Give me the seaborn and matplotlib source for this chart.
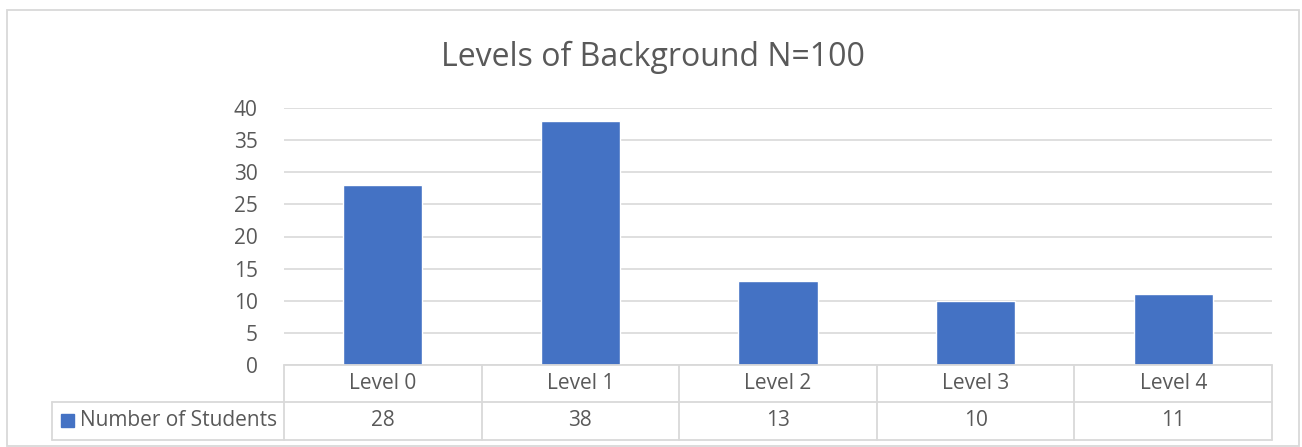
import matplotlib
matplotlib.use("Agg")
import matplotlib.pyplot as plt
import matplotlib.transforms as mtransforms
from matplotlib.lines import Line2D
from matplotlib.patches import Rectangle
import seaborn as sns
import pandas as pd

categories = ["Level 0", "Level 1", "Level 2", "Level 3", "Level 4"]
values = [28, 38, 13, 10, 11]
series_name = "Number of Students"
title = "Levels of Background N=100"
yticks = [0, 5, 10, 15, 20, 25, 30, 35, 40]

BAR = "#4472C4"
GRID = "#D9D9D9"
TXT = "#595959"

sns.set_theme(style="white")
plt.rcParams["font.family"] = ["Open Sans", "DejaVu Sans"]

W, H = 1302, 447
fig = plt.figure(figsize=(W / 100, H / 100), dpi=100)

def fx(px):
    return px / W

def fy(py):
    return 1 - py / H

x0, x1 = 284, 1272
y_top, y_zero = 108, 365
ax = fig.add_axes([fx(x0), fy(y_zero), fx(x1) - fx(x0), fy(y_top) - fy(y_zero)])

df = pd.DataFrame({"cat": categories, "val": values})
sns.barplot(data=df, x="cat", y="val", color=BAR, saturation=1, width=0.4, ax=ax)
ax.set_xlim(-0.5, len(categories) - 0.5)
ax.set_ylim(0, 40)
ax.set_yticks(yticks)
ax.yaxis.grid(True, color=GRID, linewidth=1.2)
ax.set_axisbelow(True)
for s in ax.spines.values():
    s.set_visible(False)
ax.set_xticks([])
ax.set_xlabel("")
ax.set_ylabel("")
ax.tick_params(axis="y", length=0, pad=19, labelsize=15, labelcolor=TXT)

# data table below the axes
trans = mtransforms.blended_transform_factory(ax.transData, fig.transFigure)
transA = mtransforms.blended_transform_factory(fig.transFigure, fig.transFigure)
r0, r1, r2 = 365, 402, 440
lab_left = 52
lw = 1.3
for yy, xl in [(r0, x0), (r1, lab_left), (r2, lab_left)]:
    fig.add_artist(Line2D([fx(xl), fx(x1)], [fy(yy), fy(yy)], transform=transA,
                          color=GRID, lw=lw))
for i in range(len(categories) + 1):
    xd = i - 0.5
    fig.add_artist(Line2D([xd, xd], [fy(r0), fy(r2)], transform=trans,
                          color=GRID, lw=lw, clip_on=False))
fig.add_artist(Line2D([fx(lab_left), fx(lab_left)], [fy(r1), fy(r2)], transform=transA,
                      color=GRID, lw=lw))

for i, (c, v) in enumerate(zip(categories, values)):
    fig.text(i, fy((r0 + r1) / 2), c, transform=trans, ha="center", va="center",
             fontsize=15, color=TXT)
    fig.text(i, fy((r1 + r2) / 2), str(v), transform=trans, ha="center", va="center",
             fontsize=15, color=TXT)

fig.add_artist(Rectangle((fx(61), fy(427)), fx(13), fy(414) - fy(427), transform=transA,
                         color=BAR))
fig.text(fx(80), fy((r1 + r2) / 2), series_name, ha="left", va="center",
         fontsize=15, color=TXT)

fig.text(fx(653), fy(57), title, ha="center", va="center", fontsize=23, color=TXT)

fig.add_artist(Rectangle((fx(7), fy(446)), fx(1299) - fx(7), fy(10) - fy(446),
                         transform=transA, fill=False, edgecolor=GRID, lw=1.3))

fig.savefig("out.png", dpi=100, facecolor="white")
